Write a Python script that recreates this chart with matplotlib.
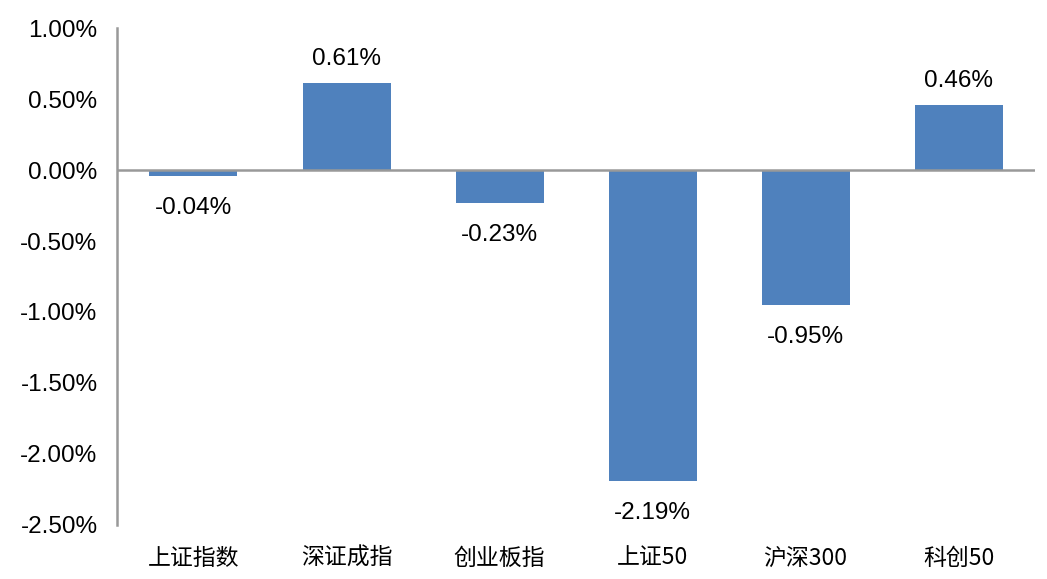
import matplotlib
matplotlib.use('Agg')
import matplotlib.pyplot as plt
import numpy as np

categories = ['上证指数', '深证成指', '创业板指', '上证50', '沪深300', '科创50']
changes = [-0.04, 0.61, -0.23, -2.19, -0.95, 0.46]
yticks = [1.0, 0.5, 0.0, -0.5, -1.0, -1.5, -2.0, -2.5]

plt.rcParams['font.family'] = ['Liberation Sans', 'Noto Sans CJK SC', 'DejaVu Sans']

fig = plt.figure(figsize=(10.47, 5.79), dpi=100)
ax = fig.add_axes([0.1117, 0.0933, 0.877, 0.8583])

x = np.arange(len(categories))
ax.bar(x, changes, width=0.575, color='#4F81BD', zorder=2)
ax.axhline(0, color='#999999', linewidth=1.8, zorder=3)

# labels sit above positive bars, below negative ones
for xi, v in zip(x, changes):
    if v >= 0:
        ax.annotate(f'{v:.2f}%', (xi, v), xytext=(0, 9.5), textcoords='offset points',
                    ha='center', va='bottom', fontsize=17.5)
    else:
        ax.annotate(f'{v:.2f}%', (xi, v), xytext=(0, -15), textcoords='offset points',
                    ha='center', va='top', fontsize=17.5)

ax.set_xlim(-0.5, len(categories) - 0.5)
ax.set_ylim(-2.5, 1.0)
ax.set_yticks(yticks)
ax.set_yticklabels([f'{t:.2f}%' for t in yticks], fontsize=17.5)
ax.set_xticks(x)
ax.set_xticklabels(categories, fontsize=16.5, family=['Noto Sans CJK SC', 'Liberation Sans'])
ax.tick_params(axis='y', length=0, pad=14)
ax.tick_params(axis='x', length=0, pad=15.5)

for s in ['top', 'right', 'bottom']:
    ax.spines[s].set_visible(False)
ax.spines['left'].set_color('#999999')
ax.spines['left'].set_linewidth(1.8)

fig.savefig('out.png', dpi=100)
plt.close(fig)
